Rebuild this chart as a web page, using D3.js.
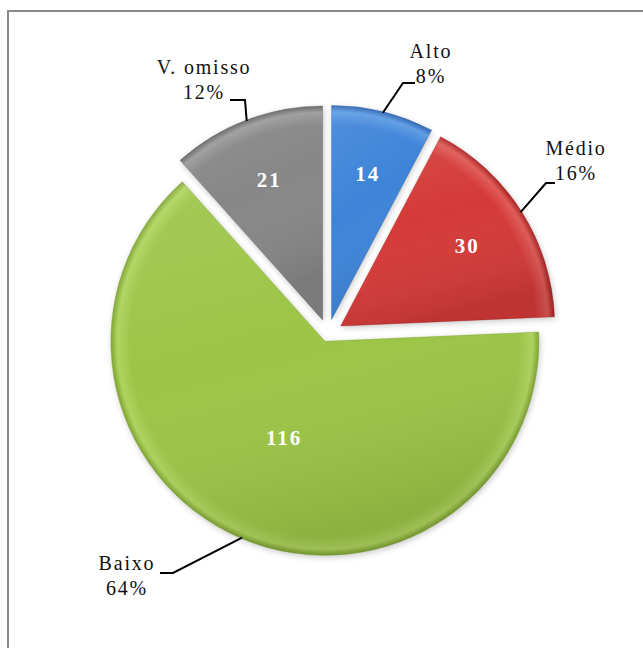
<!DOCTYPE html>
<html><head><meta charset="utf-8">
<script src="https://cdn.jsdelivr.net/npm/d3@7"></script>
<style>body{margin:0;background:#fff}svg{display:block}</style>
</head><body>
<svg id="c" width="643" height="648"></svg>
<script>
// ---- data ----
const categories = ["Alto", "Médio", "Baixo", "V. omisso"];
const values = [14, 30, 116, 21];
const percentLabels = ["8%", "16%", "64%", "12%"];

// ---- layout / style ----
const W = 643, H = 648;
const cx = 328, cy = 334, R = 214;
const explode = [15, 15, 8, 15];
const colors = [
  {mid:"#3d84d8", edge:"#2a62ae", light:"#5c9ae4"},
  {mid:"#d43a38", edge:"#a82422", light:"#e05a56"},
  {mid:"#9cc546", edge:"#7ea331", light:"#aed45e"},
  {mid:"#878787", edge:"#666666", light:"#9c9c9c"}
];
const labelLayout = [
  {x:431, y:58,  end:[415,83],  elbow:[403,83]},
  {x:576, y:155, end:[555,183], elbow:[546,183]},
  {x:127, y:570, end:[160,573], elbow:[173,573]},
  {x:204, y:74,  end:[230,100], elbow:[245,100]}
];

const svg = d3.select("#c");
const defs = svg.append("defs");

// border
svg.append("rect").attr("x", 8).attr("y", 11).attr("width", W).attr("height", H)
  .attr("fill", "#fff").attr("stroke", "#8a8a8a").attr("stroke-width", 2);

const pie = d3.pie().sort(null).value(d => d)(values);
const arc = d3.arc().innerRadius(0).outerRadius(R);

pie.forEach((d, i) => {
  const mid = (d.startAngle + d.endAngle) / 2;
  d.ox = cx + Math.sin(mid) * explode[i];
  d.oy = cy - Math.cos(mid) * explode[i];
  d.mid = mid;
  const g = defs.append("radialGradient").attr("id", "g" + i)
    .attr("gradientUnits", "userSpaceOnUse")
    .attr("cx", 0).attr("cy", 0).attr("r", R);
  g.append("stop").attr("offset", "0%").attr("stop-color", colors[i].mid);
  g.append("stop").attr("offset", "91%").attr("stop-color", colors[i].mid);
  g.append("stop").attr("offset", "97%").attr("stop-color", colors[i].light);
  g.append("stop").attr("offset", "100%").attr("stop-color", colors[i].edge);
});
const ov = defs.append("linearGradient").attr("id", "ov")
  .attr("x1", 0).attr("y1", 0).attr("x2", 0.3).attr("y2", 1);
ov.append("stop").attr("offset", "0%").attr("stop-color", "#fff").attr("stop-opacity", 0.10);
ov.append("stop").attr("offset", "50%").attr("stop-color", "#fff").attr("stop-opacity", 0);
ov.append("stop").attr("offset", "100%").attr("stop-color", "#000").attr("stop-opacity", 0.10);

const blur = defs.append("filter").attr("id", "bl").attr("x", "-20%").attr("y", "-20%")
  .attr("width", "140%").attr("height", "140%");
blur.append("feGaussianBlur").attr("stdDeviation", 3);

const shadows = svg.append("g");
pie.forEach((d, i) => {
  shadows.append("path").attr("d", arc(d))
    .attr("transform", `translate(${d.ox + 1},${d.oy + 2})`)
    .attr("fill", "#000").attr("opacity", 0.22).attr("filter", "url(#bl)");
});

const slices = svg.append("g");
pie.forEach((d, i) => {
  const g = slices.append("g").attr("transform", `translate(${d.ox},${d.oy})`);
  g.append("path").attr("d", arc(d))
    .attr("fill", `url(#g${i})`)
    .attr("stroke", colors[i].edge).attr("stroke-width", 0.8).attr("stroke-opacity", 0.5);
  g.append("path").attr("d", arc(d)).attr("fill", "url(#ov)");
});

// value labels
pie.forEach((d, i) => {
  const big = (d.endAngle - d.startAngle) > Math.PI;
  const lr = R * (big ? 0.49 : 0.70);
  svg.append("text")
    .attr("x", d.ox + Math.sin(d.mid) * lr)
    .attr("y", d.oy - Math.cos(d.mid) * lr + 7)
    .attr("text-anchor", "middle")
    .attr("font-family", "'Liberation Serif','Times New Roman',serif")
    .attr("font-weight", "bold").attr("font-size", 21).attr("fill", "#fff")
    .attr("letter-spacing", 2)
    .text(values[i]);
});

// leader lines and category labels
pie.forEach((d, i) => {
  const L = labelLayout[i];
  const p0 = [d.ox + Math.sin(d.mid) * (R - 1), d.oy - Math.cos(d.mid) * (R - 1)];
  svg.append("path")
    .attr("d", d3.line()([p0, L.elbow, L.end]))
    .attr("fill", "none").attr("stroke", "#000").attr("stroke-width", 2);
  const t = svg.append("text")
    .attr("text-anchor", "middle")
    .attr("font-family", "'Liberation Serif','Times New Roman',serif")
    .attr("font-size", 20).attr("fill", "#111").attr("letter-spacing", 1.8);
  t.append("tspan").attr("x", L.x).attr("y", L.y).text(categories[i]);
  t.append("tspan").attr("x", L.x).attr("y", L.y + 25).text(percentLabels[i]);
});
</script>
</body></html>
